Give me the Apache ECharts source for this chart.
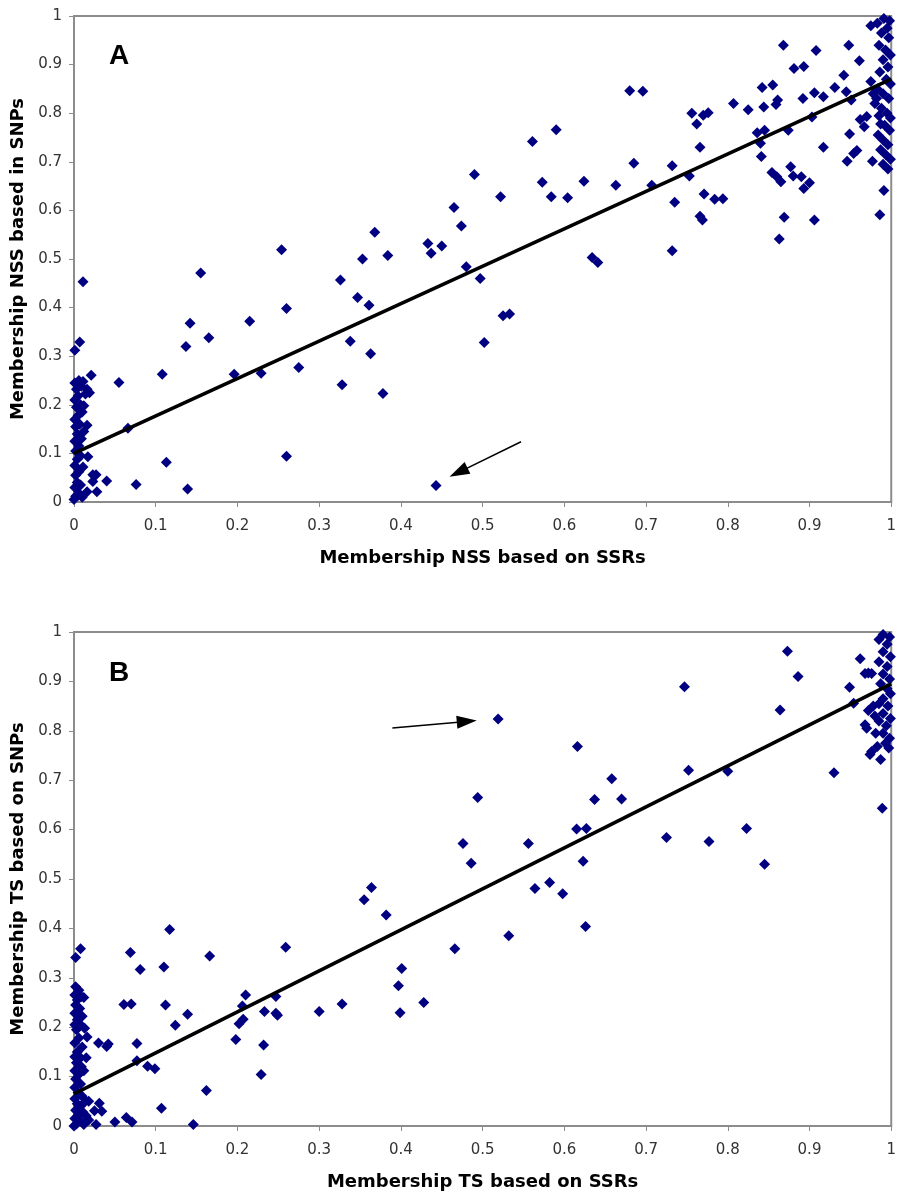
<!DOCTYPE html>
<html>
<head>
<meta charset="utf-8">
<script src="https://cdn.jsdelivr.net/npm/echarts@6/dist/echarts.min.js"></script>
<style>
  html, body { margin: 0; padding: 0; background: #fff; }
  #main { width: 899px; height: 1192px; }
</style>
</head>
<body>
<div id="main"></div>
<script>
// tick values shared by both panels
var ticks = [0, 0.1, 0.2, 0.3, 0.4, 0.5, 0.6, 0.7, 0.8, 0.9, 1];

// panel A: membership NSS, SSRs (x) vs SNPs (y)
var nssPoints = [
  [0,0.005],[0.002,0.012],[0.006,0.018],[0.01,0.01],[0.001,0.03],[0.004,0.04],[0.008,0.035],
  [0.002,0.055],[0.006,0.062],[0.011,0.072],[0.001,0.075],[0.004,0.088],[0.008,0.095],
  [0.002,0.105],[0.006,0.115],[0.001,0.125],[0.009,0.13],[0.004,0.14],[0.012,0.145],
  [0.002,0.155],[0.007,0.16],[0.016,0.158],[0.001,0.17],[0.005,0.178],[0.01,0.185],
  [0.003,0.195],[0.008,0.2],[0.012,0.198],[0.001,0.21],[0.005,0.218],[0.014,0.222],
  [0.019,0.225],[0.003,0.232],[0.009,0.238],[0.016,0.232],[0.001,0.245],[0.006,0.25],
  [0.011,0.248],[0.021,0.261],[0.017,0.093],[0.023,0.056],[0.027,0.056],[0.023,0.042],
  [0.028,0.021],[0.016,0.021],[0.04,0.043],[0.011,0.453],[0.007,0.329],[0.001,0.312],
  [0.055,0.246],[0.066,0.152],[0.076,0.036],[0.108,0.263],[0.113,0.082],[0.137,0.320],
  [0.139,0.027],[0.142,0.368],[0.155,0.471],[0.165,0.338],[0.196,0.263],[0.215,0.372],
  [0.229,0.265],[0.254,0.519],[0.260,0.398],[0.260,0.094],[0.275,0.277],[0.326,0.457],
  [0.328,0.241],[0.338,0.331],[0.347,0.421],[0.353,0.500],[0.361,0.405],[0.363,0.305],
  [0.368,0.555],[0.378,0.223],[0.384,0.507],[0.433,0.532],[0.437,0.512],[0.443,0.034],
  [0.450,0.527],[0.465,0.606],[0.474,0.568],[0.480,0.484],[0.490,0.674],[0.497,0.460],
  [0.502,0.328],[0.522,0.628],[0.525,0.383],[0.533,0.387],[0.561,0.742],[0.573,0.658],
  [0.584,0.628],[0.590,0.766],[0.604,0.626],[0.624,0.660],[0.634,0.503],[0.641,0.493],
  [0.663,0.652],[0.680,0.846],[0.685,0.697],[0.696,0.845],[0.707,0.652],[0.732,0.692],
  [0.732,0.517],[0.735,0.617],[0.753,0.671],[0.756,0.800],[0.762,0.778],[0.766,0.730],
  [0.766,0.588],[0.769,0.580],[0.770,0.796],[0.771,0.634],[0.776,0.801],[0.784,0.623],
  [0.794,0.624],[0.807,0.820],[0.825,0.807],[0.836,0.760],[0.840,0.738],[0.841,0.711],
  [0.842,0.853],[0.844,0.813],[0.845,0.765],[0.854,0.678],[0.855,0.858],[0.859,0.818],
  [0.860,0.669],[0.861,0.827],[0.863,0.541],[0.865,0.659],[0.868,0.940],[0.869,0.586],
  [0.874,0.765],[0.877,0.690],[0.880,0.671],[0.881,0.892],[0.890,0.669],[0.892,0.830],
  [0.893,0.896],[0.893,0.645],[0.900,0.657],[0.903,0.792],[0.906,0.842],[0.906,0.580],
  [0.908,0.929],[0.917,0.834],[0.917,0.730],[0.931,0.853],[0.942,0.878],[0.945,0.844],
  [0.946,0.701],[0.948,0.940],[0.949,0.757],[0.951,0.827],[0.954,0.717],[0.958,0.723],
  [0.961,0.908],[0.962,0.787],[0.967,0.772],[0.970,0.793],[0.977,0.701],[0.986,0.591],
  [0.991,0.641],[0.987,0.778],
  [0.975,0.98],[0.983,0.985],[0.991,0.995],[0.998,0.99],[0.995,0.975],[0.988,0.965],
  [0.997,0.955],[0.985,0.94],[0.993,0.93],[0.999,0.92],[0.99,0.91],[0.996,0.895],
  [0.986,0.885],[0.994,0.87],[0.999,0.86],[0.983,0.85],[0.99,0.84],[0.997,0.83],
  [0.98,0.82],[0.988,0.81],[0.995,0.80],[0.999,0.79],[0.985,0.795],[0.992,0.775],
  [0.998,0.765],[0.984,0.755],[0.99,0.745],[0.996,0.735],[0.987,0.725],[0.993,0.715],
  [0.999,0.705],[0.99,0.695],[0.996,0.685],[0.982,0.83],[0.978,0.84],[0.975,0.865]
];
var nssTrend = [[0, 0.10], [1, 0.87]];

// panel B: membership TS, SSRs (x) vs SNPs (y)
var tsPoints = [
  [0.002,0.282],[0.006,0.275],[0.001,0.265],[0.009,0.262],[0.004,0.255],[0.012,0.26],
  [0.002,0.245],[0.007,0.238],[0.001,0.228],[0.01,0.222],[0.004,0.215],[0.001,0.205],
  [0.008,0.205],[0.013,0.198],[0.003,0.195],[0.016,0.18],[0.006,0.178],[0.001,0.168],
  [0.01,0.16],[0.004,0.15],[0.001,0.14],[0.008,0.138],[0.015,0.138],[0.003,0.128],
  [0.009,0.12],[0.001,0.112],[0.006,0.105],[0.012,0.112],[0.002,0.095],[0.008,0.085],
  [0.001,0.078],[0.005,0.068],[0.01,0.06],[0.014,0.05],[0.018,0.05],[0.001,0.055],
  [0.004,0.045],[0.008,0.04],[0.002,0.032],[0.011,0.028],[0.005,0.022],[0.015,0.02],
  [0.018,0.012],[0.001,0.015],[0.008,0.01],[0.003,0.004],[0.012,0.003],[0,0],
  [0.008,0.359],[0.002,0.341],
  [0.030,0.168],[0.042,0.166],[0.040,0.161],[0.031,0.046],[0.025,0.031],[0.034,0.03],
  [0.027,0.003],[0.050,0.008],[0.064,0.017],[0.071,0.008],
  [0.061,0.246],[0.070,0.247],[0.069,0.351],[0.077,0.167],[0.077,0.132],[0.081,0.317],
  [0.090,0.121],[0.099,0.116],[0.107,0.036],[0.110,0.322],[0.112,0.245],[0.117,0.398],
  [0.124,0.204],[0.139,0.226],[0.146,0.003],[0.162,0.072],[0.166,0.344],[0.198,0.175],
  [0.202,0.207],[0.206,0.243],[0.207,0.216],[0.210,0.265],[0.229,0.104],[0.232,0.164],
  [0.233,0.232],[0.247,0.262],[0.247,0.228],[0.249,0.224],[0.259,0.362],[0.300,0.232],
  [0.328,0.247],[0.355,0.458],[0.364,0.483],[0.382,0.427],[0.397,0.284],[0.399,0.229],
  [0.401,0.319],[0.428,0.250],[0.466,0.359],[0.476,0.572],[0.486,0.532],[0.494,0.665],
  [0.519,0.824],[0.532,0.385],[0.556,0.572],[0.564,0.481],[0.582,0.493],[0.598,0.470],
  [0.615,0.601],[0.616,0.768],[0.623,0.536],[0.626,0.404],[0.627,0.602],[0.637,0.661],
  [0.658,0.703],[0.670,0.662],[0.725,0.584],[0.747,0.889],[0.752,0.720],[0.777,0.576],
  [0.800,0.718],[0.823,0.602],[0.845,0.530],[0.864,0.842],[0.873,0.961],[0.886,0.910],
  [0.930,0.715],[0.949,0.888],[0.954,0.856],[0.962,0.946],[0.968,0.916],[0.972,0.917],
  [0.976,0.916],[0.972,0.841],[0.968,0.812],[0.970,0.805],[0.981,0.795],[0.983,0.768],
  [0.976,0.758],[0.974,0.752],[0.987,0.742],[0.997,0.765],[0.989,0.643],
  [0.99,0.995],[0.998,0.99],[0.985,0.985],[0.995,0.975],[0.99,0.96],[0.999,0.95],
  [0.985,0.94],[0.995,0.93],[0.99,0.915],[0.998,0.905],[0.987,0.895],[0.995,0.885],
  [0.999,0.875],[0.99,0.865],[0.985,0.855],[0.996,0.85],[0.99,0.835],[0.999,0.825],
  [0.985,0.82],[0.994,0.81],[0.99,0.795],[0.998,0.785],[0.993,0.775],[0.98,0.83],[0.978,0.85]
];
var tsTrend = [[0, 0.065], [1, 0.895]];

// arrows pointing at the outliers (tail, head)
var arrowA = [[0.547, 0.124], [0.4705, 0.061]];
var arrowB = [[0.3896, 0.8055], [0.4806, 0.819]];

var chart = echarts.init(document.getElementById('main'), null, { renderer: 'canvas' });

var axisGray = '#8c8c8c';
var tickFont = 'DejaVu Sans';

function xAxisOf(grid, name) {
  return {
    gridIndex: grid, type: 'value', min: 0, max: 1, interval: 0.1,
    name: name, nameLocation: 'middle', nameGap: 47,
    nameTextStyle: { fontFamily: tickFont, fontWeight: 'bold', fontSize: 18, color: '#000' },
    axisLine: { show: true, lineStyle: { color: axisGray, width: 2 } },
    axisTick: { show: true, length: 5, lineStyle: { color: axisGray, width: 1 } },
    axisLabel: { color: '#333', fontFamily: tickFont, fontSize: 15, margin: 17,
      formatter: function (v) { return String(+v.toFixed(1)); } },
    splitLine: { show: false }
  };
}
function yAxisOf(grid, name) {
  return {
    gridIndex: grid, type: 'value', min: 0, max: 1, interval: 0.1,
    name: name, nameLocation: 'middle', nameGap: 45,
    nameTextStyle: { fontFamily: tickFont, fontWeight: 'bold', fontSize: 18, color: '#000' },
    axisLine: { show: true, lineStyle: { color: axisGray, width: 2 } },
    axisTick: { show: true, length: 5, lineStyle: { color: axisGray, width: 1 } },
    axisLabel: { color: '#333', fontFamily: tickFont, fontSize: 15, margin: 12,
      formatter: function (v) { return String(+v.toFixed(1)); } },
    splitLine: { show: false }
  };
}
function arrowOf(pair) {
  return {
    silent: true, animation: false,
    symbol: ['none', 'triangle'], symbolSize: [13, 20],
    label: { show: false },
    lineStyle: { color: '#000', width: 1.5, type: 'solid' },
    emphasis: { disabled: true },
    data: [[{ coord: pair[0] }, { coord: pair[1] }]]
  };
}

chart.setOption({
  animation: false,
  backgroundColor: '#fff',
  title: [
    { text: 'A', left: 104, top: 37, textStyle: { fontFamily: 'Liberation Sans', fontWeight: 'bold', fontSize: 28, color: '#000' } },
    { text: 'B', left: 104, top: 654, textStyle: { fontFamily: 'Liberation Sans', fontWeight: 'bold', fontSize: 28, color: '#000' } }
  ],
  grid: [
    { left: 74, top: 16, width: 824, height: 486, show: true, borderColor: axisGray, borderWidth: 2, backgroundColor: '#fff' },
    { left: 74, top: 632, width: 824, height: 496, show: true, borderColor: axisGray, borderWidth: 2, backgroundColor: '#fff' }
  ],
  xAxis: [
    xAxisOf(0, 'Membership NSS based on SSRs'),
    xAxisOf(1, 'Membership TS based on SSRs')
  ],
  yAxis: [
    yAxisOf(0, 'Membership NSS based in SNPs'),
    yAxisOf(1, 'Membership TS based on SNPs')
  ],
  series: [
    {
      type: 'scatter', xAxisIndex: 0, yAxisIndex: 0, data: nssPoints,
      symbol: 'diamond', symbolSize: 11, itemStyle: { color: '#000080', opacity: 1 }, z: 2
    },
    {
      type: 'line', xAxisIndex: 0, yAxisIndex: 0, data: nssTrend,
      showSymbol: false, lineStyle: { color: '#000', width: 3.5 }, z: 3,
      markLine: arrowOf(arrowA)
    },
    {
      type: 'scatter', xAxisIndex: 1, yAxisIndex: 1, data: tsPoints,
      symbol: 'diamond', symbolSize: 11, itemStyle: { color: '#000080', opacity: 1 }, z: 2
    },
    {
      type: 'line', xAxisIndex: 1, yAxisIndex: 1, data: tsTrend,
      showSymbol: false, lineStyle: { color: '#000', width: 3.5 }, z: 3,
      markLine: arrowOf(arrowB)
    }
  ]
});
</script>
</body>
</html>
